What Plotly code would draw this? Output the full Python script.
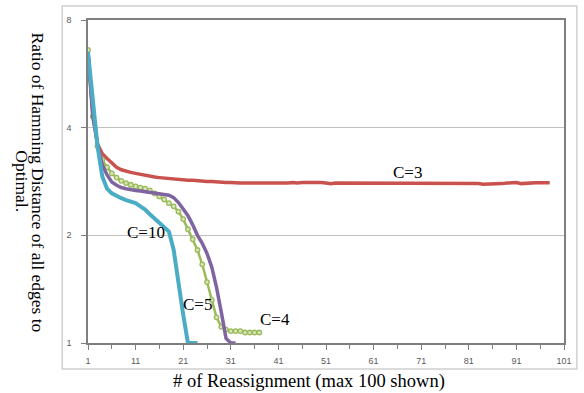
import math
import plotly.graph_objects as go

# x-axis: reassignment number
red_vals = [6.5, 4.4, 3.6, 3.38, 3.28, 3.18, 3.10, 3.05, 3.02, 3.00,
            2.98, 2.96, 2.94, 2.92, 2.91, 2.90, 2.89, 2.88, 2.87, 2.86,
            2.86, 2.85, 2.85, 2.84, 2.84, 2.83, 2.83, 2.82, 2.82, 2.81,
            2.81, 2.80, 2.80, 2.80, 2.80, 2.80, 2.80, 2.79, 2.80, 2.80,
            2.79, 2.80, 2.80, 2.81, 2.80, 2.81, 2.81, 2.82, 2.81, 2.81,
            2.80, 2.79, 2.80, 2.80, 2.80, 2.80, 2.80, 2.80, 2.80, 2.80,
            2.80, 2.80, 2.80, 2.80, 2.80, 2.80, 2.80, 2.80, 2.80, 2.80,
            2.80, 2.80, 2.80, 2.80, 2.80, 2.80, 2.80, 2.80, 2.79, 2.79,
            2.80, 2.80, 2.79, 2.78, 2.78, 2.78, 2.79, 2.79, 2.80, 2.80,
            2.81, 2.79, 2.80, 2.805, 2.805, 2.805, 2.805, 2.805]
red_x = list(range(1, len(red_vals) + 1))

green_vals = [6.6, 4.3, 3.55, 3.25, 3.10, 2.98, 2.90, 2.84, 2.80, 2.77,
              2.74, 2.72, 2.70, 2.67, 2.62, 2.57, 2.52, 2.46, 2.41, 2.33,
              2.22, 2.08, 1.95, 1.82, 1.66, 1.48, 1.32, 1.18, 1.11, 1.09,
              1.08, 1.08, 1.08, 1.07, 1.07, 1.07, 1.07]
green_x = list(range(1, len(green_vals) + 1))

purple_vals = [6.5, 4.3, 3.6, 3.15, 2.95, 2.82, 2.76, 2.72, 2.70, 2.68,
               2.67, 2.66, 2.65, 2.63, 2.62, 2.61, 2.60, 2.59, 2.55, 2.47,
               2.37, 2.27, 2.14, 2.00, 1.90, 1.78, 1.63, 1.43, 1.22, 1.03,
               1.0, 1.0]
purple_x = list(range(1, len(purple_vals) + 1))

cyan_vals = [6.5, 4.65, 3.55, 2.92, 2.70, 2.62, 2.57, 2.54, 2.51, 2.49,
             2.46, 2.41, 2.36, 2.29, 2.23, 2.17, 2.12, 2.05, 1.82, 1.45,
             1.2, 1.0, 1.0, 1.0]
cyan_x = list(range(1, len(cyan_vals) + 1))

x_tick_vals = [1, 11, 21, 31, 41, 51, 61, 71, 81, 91, 101]
y_tick_vals = [1, 2, 4, 8]

labels = ["C=3", "C=10", "C=5", "C=4"]
label_x = [68.1, 13.1, 24.1, 40.3]
label_y = [2.99, 2.04, 1.28, 1.16]

fig = go.Figure()
fig.add_trace(go.Scatter(x=red_x, y=red_vals, mode="lines",
                         line=dict(color="#C9524E", width=3.5)))
fig.add_trace(go.Scatter(x=green_x, y=green_vals, mode="lines+markers",
                         line=dict(color="#9BBB59", width=2.5),
                         marker=dict(symbol="circle", size=4.5, color="#D7E4BD",
                                     line=dict(color="#9BBB59", width=1.3))))
fig.add_trace(go.Scatter(x=purple_x, y=purple_vals, mode="lines",
                         line=dict(color="#8064A2", width=3.5)))
fig.add_trace(go.Scatter(x=cyan_x, y=cyan_vals, mode="lines",
                         line=dict(color="#4BACC6", width=4)))

for t, lx, ly in zip(labels, label_x, label_y):
    fig.add_annotation(x=lx, y=math.log10(ly), xref="x", yref="y", text=t,
                       showarrow=False, xanchor="center", yanchor="middle",
                       font=dict(family="Liberation Serif", size=17, color="#000000"))

# axis titles
fig.add_annotation(x=(37 - 88) / 481, y=(343 - 182) / 323, xref="paper", yref="paper",
                   text="Ratio of Hamming Distance of all edges to", textangle=90,
                   showarrow=False, xanchor="center", yanchor="middle",
                   font=dict(family="Liberation Serif", size=17.5, color="#000000"))
fig.add_annotation(x=(21 - 88) / 481, y=(343 - 181) / 323, xref="paper", yref="paper",
                   text="Optimal.", textangle=90,
                   showarrow=False, xanchor="center", yanchor="middle",
                   font=dict(family="Liberation Serif", size=17.5, color="#000000"))
fig.add_annotation(x=(311 - 88) / 481, y=(343 - 381) / 323, xref="paper", yref="paper",
                   text="# of Reassignment (max 100 shown)",
                   showarrow=False, xanchor="center", yanchor="middle",
                   font=dict(family="Liberation Serif", size=18.5, color="#000000"))

# outer chart box
fig.add_shape(type="rect", xref="paper", yref="paper",
              x0=(62 - 88) / 481, x1=(582 - 88) / 481,
              y0=(343 - 369) / 323, y1=(343 - 6) / 323,
              line=dict(color="#D0D0D0", width=1.5), layer="below")

fig.update_layout(
    width=584, height=393,
    margin=dict(l=88, r=15, t=20, b=50),
    paper_bgcolor="white", plot_bgcolor="white",
    showlegend=False,
    hovermode=False,
    xaxis=dict(range=[1, 101], tickvals=x_tick_vals, ticks="outside", ticklen=5,
               tickcolor="#7F7F7F", showline=True, linecolor="#7F7F7F", linewidth=1.5,
               mirror=True, showgrid=False, zeroline=False,
               minor=dict(tick0=1, dtick=5, ticks="outside", ticklen=4, tickcolor="#7F7F7F"),
               tickfont=dict(family="Liberation Sans", size=9, color="#595959"),
               ticklabelstandoff=3),
    yaxis=dict(type="log", range=[0, math.log10(8)], tickvals=y_tick_vals,
               ticktext=[str(v) for v in y_tick_vals],
               ticks="outside", ticklen=5, tickcolor="#7F7F7F",
               showline=True, linecolor="#7F7F7F", linewidth=1.5, mirror=True,
               showgrid=True, gridcolor="#C0C0C0", gridwidth=1, zeroline=False,
               tickfont=dict(family="Liberation Sans", size=9, color="#595959"),
               ticklabelstandoff=8),
)

fig.write_html("out.html", config={"displayModeBar": False},
               post_script="document.body.style.margin='0';document.body.style.padding='0';")
